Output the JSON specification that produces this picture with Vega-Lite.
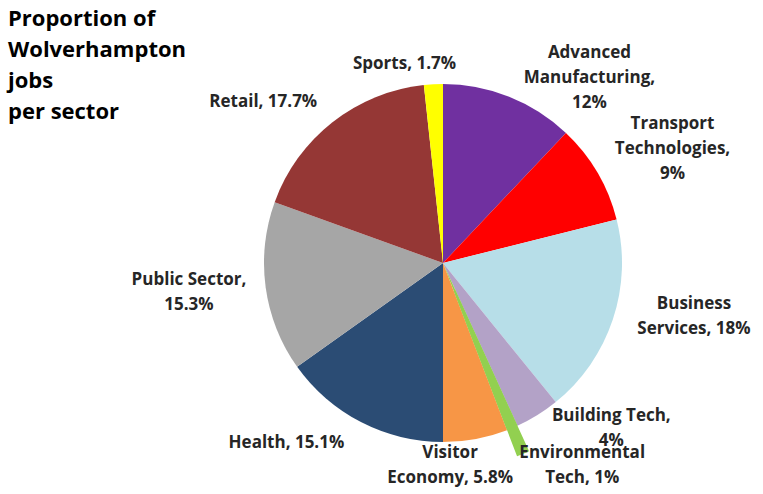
{
  "$schema": "https://vega.github.io/schema/vega-lite/v6.json",
  "autosize": {"type": "none"},
  "width": 640,
  "height": 462,
  "padding": {"left": 123, "top": 32, "right": 0, "bottom": 0},
  "background": "white",
  "config": {"view": {"stroke": null}},
  "title": {
    "text": ["Proportion of", "Wolverhampton", "jobs", "per sector"],
    "anchor": "start",
    "frame": "group",
    "baseline": "top",
    "offset": 0,
    "dx": -115,
    "dy": 92,
    "font": "Open Sans",
    "fontSize": 22,
    "fontWeight": "bold",
    "color": "#000000",
    "lineHeight": 31
  },
  "data": {
    "values": [
      {"order": 1, "sector": "Advanced Manufacturing", "value": 12, "label": ["Advanced", "Manufacturing,", "12%"]},
      {"order": 2, "sector": "Transport Technologies", "value": 9, "label": ["Transport", "Technologies,", "9%"]},
      {"order": 3, "sector": "Business Services", "value": 18, "label": ["Business", "Services, 18%"]},
      {"order": 4, "sector": "Building Tech", "value": 4, "label": ["Building Tech,", "4%"]},
      {"order": 5, "sector": "Environmental Tech", "value": 1, "label": ["Environmental", "Tech, 1%"]},
      {"order": 6, "sector": "Visitor Economy", "value": 5.8, "label": ["Visitor", "Economy, 5.8%"]},
      {"order": 7, "sector": "Health", "value": 15.1, "label": ["Health, 15.1%"]},
      {"order": 8, "sector": "Public Sector", "value": 15.3, "label": ["Public Sector,", "15.3%"]},
      {"order": 9, "sector": "Retail", "value": 17.7, "label": ["Retail, 17.7%"]},
      {"order": 10, "sector": "Sports", "value": 1.7, "label": ["Sports, 1.7%"]}
    ]
  },
  "transform": [
    {"window": [{"op": "sum", "field": "value", "as": "cum"}], "sort": [{"field": "order"}], "frame": [null, 0]},
    {"calculate": "datum.cum - datum.value", "as": "start"},
    {"calculate": "datum.cum - datum.value / 2", "as": "mid"}
  ],
  "layer": [
    {
      "mark": {"type": "arc", "outerRadius": 179},
      "encoding": {
        "theta": {"field": "value", "type": "quantitative", "stack": true},
        "order": {"field": "order", "type": "quantitative"},
        "color": {
          "field": "sector",
          "type": "nominal",
          "legend": null,
          "scale": {
            "domain": ["Advanced Manufacturing", "Transport Technologies", "Business Services", "Building Tech", "Environmental Tech", "Visitor Economy", "Health", "Public Sector", "Retail", "Sports"],
            "range": ["#7030A0", "#FF0000", "#B7DEE8", "#B3A2C7", "#92D050", "#F79646", "#2B4C74", "#A6A6A6", "#953735", "#FFFF00"]
          }
        }
      }
    },
    {
      "transform": [{"filter": "datum.sector == 'Environmental Tech'"}],
      "mark": {"type": "arc", "outerRadius": 207, "innerRadius": 30, "color": "#92D050"},
      "encoding": {
        "theta": {"field": "start", "type": "quantitative"},
        "theta2": {"field": "cum"}
      }
    },
    {
      "transform": [{"filter": "datum.sector == 'Advanced Manufacturing'"}],
      "mark": {"type": "text", "radius": 215, "dx": 67, "dy": -10, "font": "Open Sans", "fontSize": 17, "fontWeight": "bold", "color": "#262626", "lineHeight": 25, "align": "center", "baseline": "middle"},
      "encoding": {"theta": {"field": "mid", "type": "quantitative", "stack": null}, "text": {"field": "label"}}
    },
    {
      "transform": [{"filter": "datum.sector == 'Transport Technologies'"}],
      "mark": {"type": "text", "radius": 215, "dx": 44, "dy": -30, "font": "Open Sans", "fontSize": 17, "fontWeight": "bold", "color": "#262626", "lineHeight": 25, "align": "center", "baseline": "middle"},
      "encoding": {"theta": {"field": "mid", "type": "quantitative", "stack": null}, "text": {"field": "label"}}
    },
    {
      "transform": [{"filter": "datum.sector == 'Business Services'"}],
      "mark": {"type": "text", "radius": 215, "dx": 47, "dy": -27, "font": "Open Sans", "fontSize": 17, "fontWeight": "bold", "color": "#262626", "lineHeight": 25, "align": "center", "baseline": "middle"},
      "encoding": {"theta": {"field": "mid", "type": "quantitative", "stack": null}, "text": {"field": "label"}}
    },
    {
      "transform": [{"filter": "datum.sector == 'Building Tech'"}],
      "mark": {"type": "text", "radius": 215, "dx": 55, "dy": -30, "font": "Open Sans", "fontSize": 17, "fontWeight": "bold", "color": "#262626", "lineHeight": 25, "align": "center", "baseline": "middle"},
      "encoding": {"theta": {"field": "mid", "type": "quantitative", "stack": null}, "text": {"field": "label"}}
    },
    {
      "transform": [{"filter": "datum.sector == 'Environmental Tech'"}],
      "mark": {"type": "text", "radius": 215, "dx": 56, "dy": -8, "font": "Open Sans", "fontSize": 17, "fontWeight": "bold", "color": "#262626", "lineHeight": 25, "align": "center", "baseline": "middle"},
      "encoding": {"theta": {"field": "mid", "type": "quantitative", "stack": null}, "text": {"field": "label"}}
    },
    {
      "transform": [{"filter": "datum.sector == 'Visitor Economy'"}],
      "mark": {"type": "text", "radius": 215, "dx": -32, "dy": -21, "font": "Open Sans", "fontSize": 17, "fontWeight": "bold", "color": "#262626", "lineHeight": 25, "align": "center", "baseline": "middle"},
      "encoding": {"theta": {"field": "mid", "type": "quantitative", "stack": null}, "text": {"field": "label"}}
    },
    {
      "transform": [{"filter": "datum.sector == 'Health'"}],
      "mark": {"type": "text", "radius": 215, "dx": -58, "dy": -11, "font": "Open Sans", "fontSize": 17, "fontWeight": "bold", "color": "#262626", "lineHeight": 25, "align": "center", "baseline": "middle"},
      "encoding": {"theta": {"field": "mid", "type": "quantitative", "stack": null}, "text": {"field": "label"}}
    },
    {
      "transform": [{"filter": "datum.sector == 'Public Sector'"}],
      "mark": {"type": "text", "radius": 215, "dx": -41, "dy": -12, "font": "Open Sans", "fontSize": 17, "fontWeight": "bold", "color": "#262626", "lineHeight": 25, "align": "center", "baseline": "middle"},
      "encoding": {"theta": {"field": "mid", "type": "quantitative", "stack": null}, "text": {"field": "label"}}
    },
    {
      "transform": [{"filter": "datum.sector == 'Retail'"}],
      "mark": {"type": "text", "radius": 215, "dx": -47, "dy": 8, "font": "Open Sans", "fontSize": 17, "fontWeight": "bold", "color": "#262626", "lineHeight": 25, "align": "center", "baseline": "middle"},
      "encoding": {"theta": {"field": "mid", "type": "quantitative", "stack": null}, "text": {"field": "label"}}
    },
    {
      "transform": [{"filter": "datum.sector == 'Sports'"}],
      "mark": {"type": "text", "radius": 215, "dx": -27, "dy": 16, "font": "Open Sans", "fontSize": 17, "fontWeight": "bold", "color": "#262626", "lineHeight": 25, "align": "center", "baseline": "middle"},
      "encoding": {"theta": {"field": "mid", "type": "quantitative", "stack": null}, "text": {"field": "label"}}
    }
  ]
}
